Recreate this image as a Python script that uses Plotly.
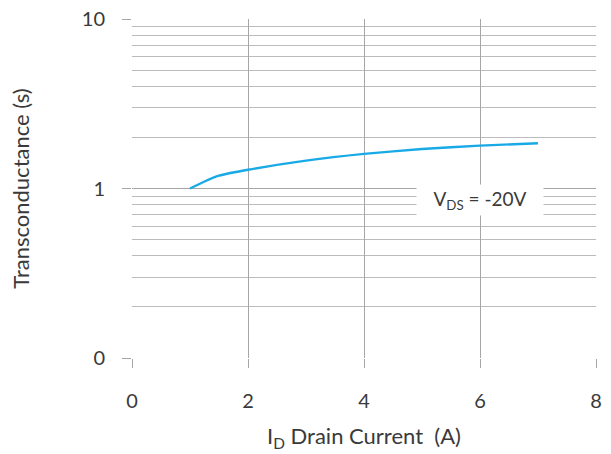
import math
import plotly.graph_objects as go

# Data
drain_current = [1.0, 1.25, 1.5, 2.0, 3.0, 4.0, 5.0, 6.0, 7.0]
transconductance = [1.0, 1.10, 1.19, 1.29, 1.46, 1.60, 1.71, 1.79, 1.85]

x_ticks = [0, 2, 4, 6, 8]
y_tickvals = [0.1, 1, 10]
y_ticktext = ["0", "1", "10"]
y_minor = [0.2, 0.3, 0.4, 0.5, 0.6, 0.7, 0.8, 0.9, 2, 3, 4, 5, 6, 7, 8, 9]

label_text = "V<sub>DS</sub> = -20V"
label_x = 6.0
label_y = 0.85

grid = "#a6a6a6"
minor_grid = "#bcbcbc"
txt = "#3a3a3a"
font_family = "Lato"

fig = go.Figure()
fig.add_trace(go.Scatter(
    x=drain_current, y=transconductance, mode="lines",
    line=dict(color="#18aae6", width=2.4, shape="spline", smoothing=0.6),
    showlegend=False, hoverinfo="skip",
))

fig.update_layout(
    width=611, height=454,
    margin=dict(l=132, r=15, t=19, b=96, autoexpand=False),
    paper_bgcolor="white", plot_bgcolor="white",
    font=dict(family=font_family, size=20, color=txt),
    xaxis=dict(
        range=[0, 8], tickvals=x_ticks, ticks="outside", ticklen=9,
        tickcolor=grid, tickwidth=1.3, showgrid=True, gridcolor=grid, gridwidth=1.3,
        zeroline=False, showline=False, ticklabelstandoff=16, automargin=False,
        ticklabeloverflow="allow",
        title=dict(text="I<sub>D</sub> Drain Current\u00a0\u00a0(A)", standoff=17,
                   font=dict(size=22, color=txt)),
        fixedrange=True,
    ),
    yaxis=dict(
        type="log", range=[-1, 1], tickvals=y_tickvals, ticktext=y_ticktext,
        ticks="outside", ticklen=9, tickcolor=grid, tickwidth=1.3,
        showgrid=True, gridcolor=grid, gridwidth=1.3, zeroline=False, showline=False,
        ticklabelstandoff=13, automargin=False, ticklabeloverflow="allow",
        minor=dict(tickvals=y_minor, showgrid=True, gridcolor=minor_grid, gridwidth=1.2, ticks=""),
        title=dict(text="Transconductance (s)", standoff=46, font=dict(size=22, color=txt)),
        fixedrange=True,
    ),
)

fig.add_annotation(
    x=label_x, y=math.log10(label_y), xref="x", yref="y",
    text=label_text, showarrow=False,
    bgcolor="white", width=124, height=28,
    font=dict(family=font_family, size=19, color=txt),
)

fig.write_html("out.html", config={"displayModeBar": False},
               post_script="document.body.style.margin='0px';")
